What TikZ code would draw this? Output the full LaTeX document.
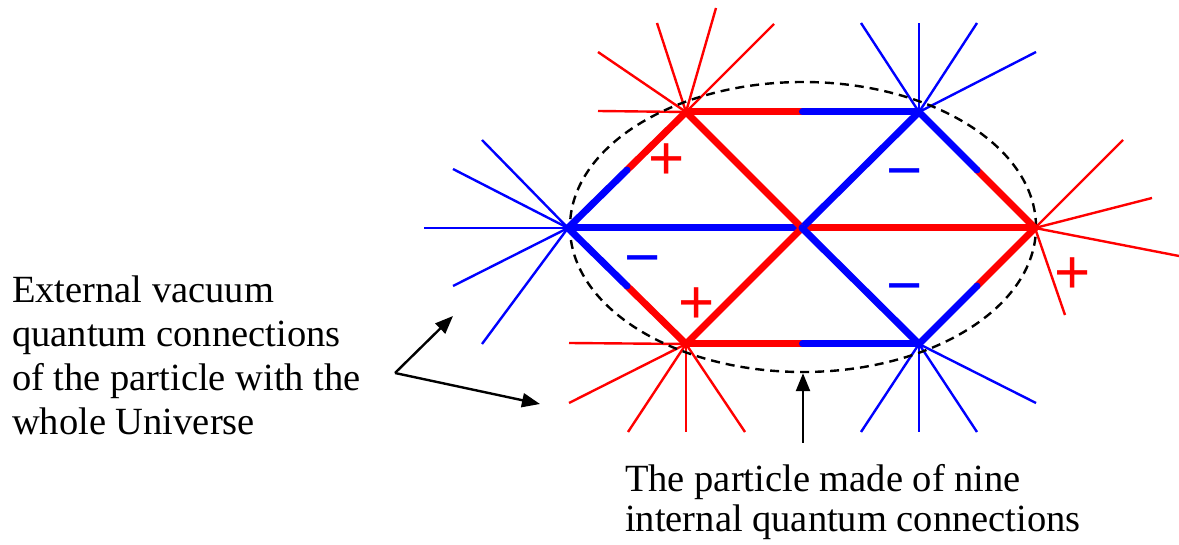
\documentclass[tikz,border=0pt]{standalone}
\usepackage{fontspec}
\setmainfont{Liberation Serif}
\newfontfamily\signfont{Liberation Sans}
\usetikzlibrary{arrows.meta,calc,shapes.geometric}
\begin{document}
\begin{tikzpicture}[x=1pt,y=-1pt,
  redbond/.style={line width=7pt,draw=red,line cap=round},
  bluebond/.style={line width=7pt,draw=blue,line cap=round},
  redray/.style={line width=2.4pt,draw=red},
  blueray/.style={line width=2.4pt,draw=blue},
  pointer/.style={line width=2.4pt,draw=black,-{Triangle[length=18pt,width=14pt]}},
  txt/.style={font=\fontsize{38.5}{44}\selectfont,align=left,inner sep=0pt,anchor=north west},
  plussign/.style={text=red,font=\signfont\fontsize{62}{62}\selectfont,inner sep=0pt,anchor=base},
  minussign/.style={text=blue,font=\signfont\fontsize{62}{62}\selectfont,inner sep=0pt,anchor=base}
]
\useasboundingbox (0,0) rectangle (1179,545);

% vertices
\coordinate (A) at (686,112);
\coordinate (B) at (919,112);
\coordinate (C) at (568,228);
\coordinate (D) at (802,228);
\coordinate (E) at (1035,228);
\coordinate (F) at (686,344);
\coordinate (G) at (919,344);

% external rays
\foreach \n/\px/\py in {1/598/52,2/657/23,3/716/8,4/774/24,5/598/111}
  {\coordinate (A\n) at (\px,\py); \draw[redray] (A) -- (A\n);}
\foreach \n/\px/\py in {1/861/23,2/919/23,3/977/23,4/1036/52}
  {\coordinate (B\n) at (\px,\py); \draw[blueray] (B) -- (B\n);}
\foreach \n/\px/\py in {1/482/140,2/453/169,3/424/228,4/453/286,5/482/344}
  {\coordinate (C\n) at (\px,\py); \draw[blueray] (C) -- (C\n);}
\foreach \n/\px/\py in {1/1123/140,2/1152/198,3/1179/256,4/1065/315}
  {\coordinate (E\n) at (\px,\py); \draw[redray] (E) -- (E\n);}
\foreach \n/\px/\py in {1/569/343,2/569/403,3/628/432,4/686/432,5/745/432}
  {\coordinate (F\n) at (\px,\py); \draw[redray] (F) -- (F\n);}
\foreach \n/\px/\py in {1/861/432,2/919/432,3/977/432,4/1036/403}
  {\coordinate (G\n) at (\px,\py); \draw[blueray] (G) -- (G\n);}

% particle outline
\node[draw=black,line width=2.4pt,dash pattern=on 9pt off 6pt,ellipse,
      minimum width=466pt,minimum height=290pt,inner sep=0pt] (particle) at (803,227) {};

% internal bonds
\draw[bluebond] (C) -- (D);
\draw[redbond] (D) -- (E);
\draw[redbond] (A) -- (D);
\draw[bluebond] (B) -- (D);
\draw[redbond] (F) -- (D);
\draw[bluebond] (G) -- (D);
\draw[redbond] (A) -- ($(A)!0.5!(B)$); \draw[bluebond] ($(A)!0.5!(B)$) -- (B);
\draw[redbond] (A) -- ($(A)!0.5!(C)$); \draw[bluebond] ($(A)!0.5!(C)$) -- (C);
\draw[redbond] (E) -- ($(E)!0.5!(B)$); \draw[bluebond] ($(E)!0.5!(B)$) -- (B);
\draw[redbond] (F) -- ($(F)!0.5!(C)$); \draw[bluebond] ($(F)!0.5!(C)$) -- (C);
\draw[redbond] (E) -- ($(E)!0.5!(G)$); \draw[bluebond] ($(E)!0.5!(G)$) -- (G);
\draw[redbond] (F) -- ($(F)!0.5!(G)$); \draw[bluebond] ($(F)!0.5!(G)$) -- (G);

% charge signs
\node[plussign] (s1) at (667,180) {+};
\node[minussign] (s2) at (905,192) {−};
\node[minussign] (s3) at (643,279) {−};
\node[plussign] (s4) at (697,324) {+};
\node[minussign] (s5) at (905,307) {−};
\node[plussign] (s6) at (1073,294) {+};

% labels
\node[txt] (ext) at (12,276) {External vacuum\\quantum connections\\of the particle with the\\whole Universe};
\node[txt,font=\fontsize{38.5}{40}\selectfont] (int) at (625,464) {The particle made of nine\\internal quantum connections};

% pointers
\coordinate (fork) at (395,373);
\coordinate (up) at (453,316);
\coordinate (down) at (540,404);
\coordinate (ptail) at (803,443);
\draw[pointer] (fork) -- (up);
\draw[pointer] (fork) -- (down);
\draw[pointer] (ptail) -- (particle.south);
\end{tikzpicture}
\end{document}
